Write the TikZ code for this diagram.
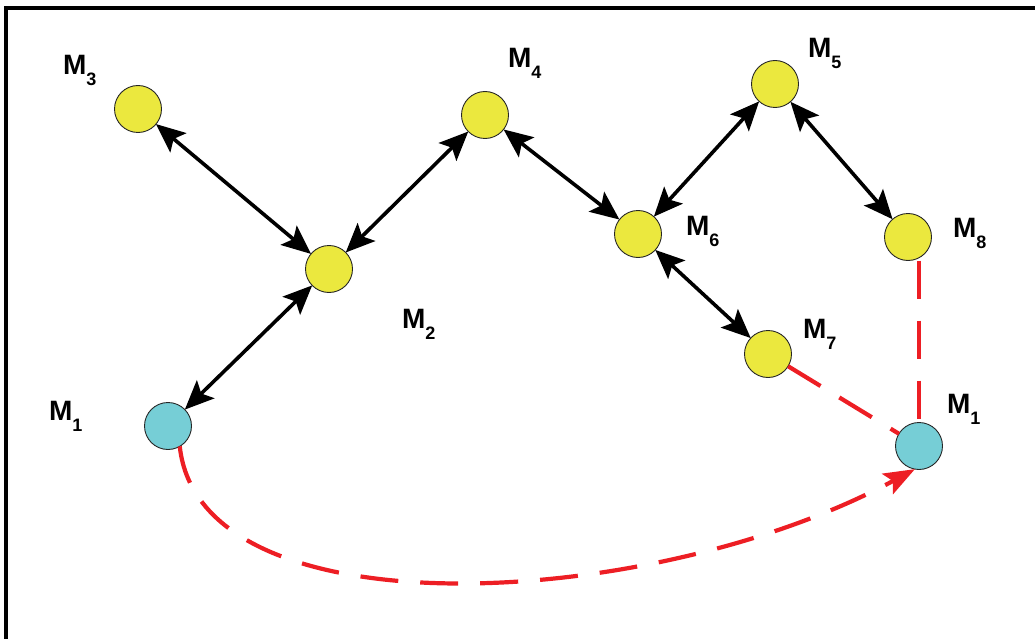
\documentclass[tikz,border=0pt]{standalone}
\usepackage{fontspec}
\setmainfont{Liberation Sans}
\usetikzlibrary{arrows.meta}
\definecolor{nodeyellow}{RGB}{235,232,62}
\definecolor{nodecyan}{RGB}{118,206,214}
\definecolor{linkred}{RGB}{237,30,36}
\newcommand{\mlab}[1]{M\raisebox{-11pt}{\fontsize{18}{18}\selectfont #1}}
\tikzset{
  machine/.style={circle, draw=black!85, line width=0.9pt, minimum size=47pt, inner sep=0pt, outer sep=0pt, fill=nodeyellow},
  depot/.style={machine, fill=nodecyan},
  mlabel/.style={anchor=base west, inner sep=0pt, outer sep=0pt, font=\fontsize{28}{28}\selectfont\bfseries},
  bitip/.tip={Stealth[length=29pt,width=25pt,inset=6pt]},
  redtip/.tip={Stealth[length=31pt,width=23pt,inset=6pt]},
  biarrow/.style={line width=3.6pt, draw=black, bitip-bitip},
  redlink/.style={line width=4.2pt, draw=linkred, dash pattern=on 38pt off 22pt},
  redarrow/.style={redlink, -redtip}
}
\begin{document}
\begin{tikzpicture}[x=1pt,y=-1pt]
\useasboundingbox (0,0) rectangle (1035,639);
\draw[line width=3.5pt] (6,639) -- (6,8) -- (1035,8);
% nodes
\node[machine] (M3) at (138,109) {};
\node[machine] (M4) at (485,115) {};
\node[machine] (M2) at (329,269) {};
\node[machine] (M5) at (775,84) {};
\node[machine] (M6) at (638,234) {};
\node[machine] (M8) at (908,237) {};
\node[machine] (M7) at (768,354) {};
\node[depot] (M1l) at (168,426) {};
\node[depot] (M1r) at (919,446) {};
% labels
\node[mlabel] (L3) at (63,75) {\mlab{3}};
\node[mlabel] (L4) at (508,68) {\mlab{4}};
\node[mlabel] (L2) at (402,328) {\mlab{2}};
\node[mlabel] (L5) at (808,58) {\mlab{5}};
\node[mlabel] (L6) at (686,235) {\mlab{6}};
\node[mlabel] (L8) at (953,237) {\mlab{8}};
\node[mlabel] (L7) at (803,338) {\mlab{7}};
\node[mlabel] (L1l) at (49,420) {\mlab{1}};
\node[mlabel] (L1r) at (947,413) {\mlab{1}};
% black links
\draw[biarrow] (M3) -- (M2);
\draw[biarrow] (M2) -- (M4);
\draw[biarrow] (M2) -- (M1l);
\draw[biarrow] (M4) -- (M6);
\draw[biarrow] (M6) -- (M5);
\draw[biarrow] (M5) -- (M8);
\draw[biarrow] (M6) -- (M7);
% red links
\draw[redlink] (M8.south -| M1r.north) -- (M1r.north);
\draw[redlink] (M7) -- (M1r);
\draw[redarrow] (M1l.-60) .. controls (200,635) and (650,612) .. (M1r.-100);
\end{tikzpicture}
\end{document}
